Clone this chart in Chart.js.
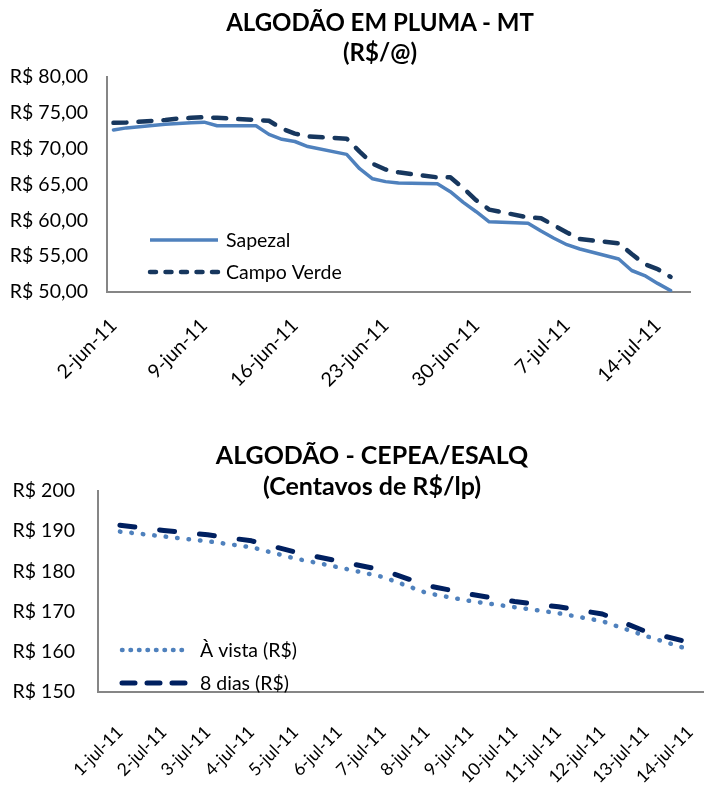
<!DOCTYPE html>
<html><head><meta charset="utf-8">
<script src="https://cdn.jsdelivr.net/npm/chart.js@4"></script>
<style>
html,body{margin:0;padding:0;background:#fff;overflow:hidden;width:704px;height:785px;}
#wrap{position:relative;width:704px;height:785px;overflow:hidden;}
canvas{position:absolute;left:0;}
.ttl{position:absolute;font-family:Lato,sans-serif;font-weight:bold;text-align:center;color:#000;width:600px;}
</style></head><body>
<div id="wrap">
<canvas id="c1" width="704" height="400" style="top:0"></canvas>
<canvas id="c2" width="720" height="385" style="top:400px"></canvas>
<div class="ttl" style="left:80px;top:7px;font-size:24px;line-height:30px;">ALGODÃO EM PLUMA - MT<br>(R$/@)</div>
<div class="ttl" style="left:72px;top:439px;font-size:25px;line-height:31px;">ALGODÃO - CEPEA/ESALQ<br>(Centavos de R$/lp)</div>
</div>
<script>
// ---------- Chart 1 data (daily categories, null = no quote) ----------
const topDates = ['2-jun-11','3-jun-11','4-jun-11','5-jun-11','6-jun-11','7-jun-11','8-jun-11','9-jun-11','10-jun-11','11-jun-11','12-jun-11','13-jun-11','14-jun-11','15-jun-11','16-jun-11','17-jun-11','18-jun-11','19-jun-11','20-jun-11','21-jun-11','22-jun-11','23-jun-11','24-jun-11','25-jun-11','26-jun-11','27-jun-11','28-jun-11','29-jun-11','30-jun-11','1-jul-11','2-jul-11','3-jul-11','4-jul-11','5-jul-11','6-jul-11','7-jul-11','8-jul-11','9-jul-11','10-jul-11','11-jul-11','12-jul-11','13-jul-11','14-jul-11','15-jul-11','16-jul-11'];
const sapezal = [72.6,72.9,null,null,73.4,73.5,73.6,73.7,73.2,null,null,73.2,72.0,71.3,71.0,70.3,null,null,69.2,67.2,65.8,65.4,65.2,null,null,65.1,64.0,62.5,61.2,59.8,null,null,59.6,58.5,57.5,56.6,56.0,null,null,54.6,53.0,52.3,51.2,50.2,null];
const campoVerde = [73.6,73.65,null,null,74.0,74.2,74.3,74.4,74.3,null,null,74.0,73.9,72.8,72.1,71.7,null,null,71.4,69.6,67.9,67.1,66.7,null,null,66.0,66.0,64.5,62.8,61.5,null,null,60.4,60.3,59.3,58.3,57.4,null,null,56.8,55.3,53.9,53.2,52.1,null];
const topLabelEvery = 7;

// ---------- Chart 2 data ----------
const bottomDates = ['1-jul-11','2-jul-11','3-jul-11','4-jul-11','5-jul-11','6-jul-11','7-jul-11','8-jul-11','9-jul-11','10-jul-11','11-jul-11','12-jul-11','13-jul-11','14-jul-11'];
const aVista = [189.9,188.7,187.5,186.0,183.2,181.0,178.6,174.6,172.6,171.1,169.6,167.6,163.9,160.5];
const oitoDias = [191.5,190.2,189.1,187.6,184.8,182.5,180.3,176.5,174.3,172.5,171.2,169.4,165.0,162.3];

const FONT = 'Lato, sans-serif';
const TICK_SIZE = 19.5;

const insideLegend = {
  id: 'insideLegend',
  afterDatasetsDraw(chart, args, opts) {
    const {ctx, chartArea} = chart;
    ctx.save();
    chart.data.datasets.forEach((ds, i) => {
      const y = chartArea.bottom + opts.rows[i];
      ctx.beginPath();
      ctx.setLineDash(opts.dashes[i]);
      ctx.lineCap = opts.caps[i];
      ctx.lineWidth = ds.borderWidth;
      ctx.strokeStyle = ds.borderColor;
      ctx.moveTo(chartArea.left + opts.x0, y);
      ctx.lineTo(chartArea.left + opts.x1, y);
      ctx.stroke();
      ctx.setLineDash([]);
      ctx.fillStyle = '#000';
      ctx.font = opts.font;
      ctx.textBaseline = 'middle';
      ctx.textAlign = 'left';
      ctx.fillText(ds.label, chartArea.left + opts.textX, y + 1);
    });
    ctx.restore();
  }
};

const axisBorder = {display: true, color: '#868686', width: 2};

new Chart(document.getElementById('c1'), {
  type: 'line',
  data: {
    labels: topDates,
    datasets: [
      {label: 'Sapezal', data: sapezal, borderColor: '#4F81BD', borderWidth: 3.5, borderJoinStyle: 'round', borderCapStyle: 'round', pointRadius: 0, spanGaps: true, tension: 0},
      {label: 'Campo Verde', data: campoVerde, borderColor: '#17375E', borderWidth: 4.5, borderDash: [13, 12], borderJoinStyle: 'round', borderCapStyle: 'round', pointRadius: 0, spanGaps: true, tension: 0}
    ]
  },
  options: {
    responsive: false, animation: false, devicePixelRatio: 1,
    layout: {padding: {top: 77, right: 14, bottom: 0, left: 0}},
    plugins: {
      legend: {display: false}, tooltip: {enabled: false}, title: {display: false},
      insideLegend: {rows: [-52, -20], x0: 43, x1: 111, textX: 119, font: '19.5px ' + FONT, dashes: [[], [6, 9.5]], caps: ['butt', 'round']}
    },
    scales: {
      x: {
        type: 'category', offset: true,
        grid: {display: false, drawTicks: false}, border: axisBorder,
        ticks: {autoSkip: false, maxRotation: 45, minRotation: 45, padding: 22, color: '#000', font: {family: FONT, size: TICK_SIZE},
          callback: function(v, i) { return i % topLabelEvery === 0 ? this.getLabelForValue(v) : ''; }},
        afterFit: s => { s.height = 108; s.paddingRight = 0; s.paddingLeft = 0; }
      },
      y: {
        min: 50, max: 80,
        grid: {display: false, drawTicks: false}, border: axisBorder,
        ticks: {stepSize: 5, padding: 19, color: '#000', font: {family: FONT, size: TICK_SIZE},
          callback: v => 'R$ ' + v.toFixed(2).replace('.', ',')},
        afterFit: s => { s.width = 107; }
      }
    }
  },
  plugins: [insideLegend]
});

new Chart(document.getElementById('c2'), {
  type: 'line',
  data: {
    labels: bottomDates,
    datasets: [
      {label: 'À vista (R$)', data: aVista, borderColor: '#4F81BD', borderWidth: 4.5, borderDash: [0.5, 11], borderCapStyle: 'round', borderJoinStyle: 'round', pointRadius: 0, tension: 0},
      {label: '8 dias (R$)', data: oitoDias, borderColor: '#002060', borderWidth: 5, borderDash: [15, 25], borderCapStyle: 'round', borderJoinStyle: 'round', pointRadius: 0, tension: 0}
    ]
  },
  options: {
    responsive: false, animation: false, devicePixelRatio: 1,
    layout: {padding: {top: 91, right: 8, bottom: 0, left: 0}},
    plugins: {
      legend: {display: false}, tooltip: {enabled: false}, title: {display: false},
      insideLegend: {rows: [-42, -9], x0: 24, x1: 92, textX: 102, font: '19.5px ' + FONT, dashes: [[0.5, 8], [13, 12]], caps: ['round', 'round']}
    },
    scales: {
      x: {
        type: 'category', offset: true,
        grid: {display: false, drawTicks: false}, border: axisBorder,
        ticks: {autoSkip: false, maxRotation: 45, minRotation: 45, padding: 30, color: '#000', font: {family: FONT, size: 17.5}},
        afterFit: s => { s.height = 93; s.paddingRight = 0; s.paddingLeft = 0; }
      },
      y: {
        min: 150, max: 200,
        grid: {display: false, drawTicks: false}, border: axisBorder,
        ticks: {stepSize: 10, padding: 23, color: '#000', font: {family: FONT, size: TICK_SIZE},
          callback: v => 'R$ ' + v},
        afterFit: s => { s.width = 98; }
      }
    }
  },
  plugins: [insideLegend]
});
</script>
</body></html>
